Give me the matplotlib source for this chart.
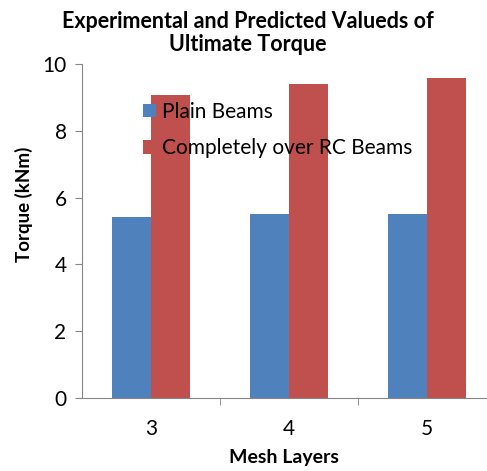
import numpy as np
import matplotlib
matplotlib.use('Agg')
import matplotlib.pyplot as plt

plt.rcParams['font.family'] = ['Lato', 'DejaVu Sans']

layers = ['3', '4', '5']
plain = [5.42, 5.52, 5.52]
complete = [9.08, 9.4, 9.58]

fig = plt.figure(figsize=(4.87, 4.71), dpi=100)
ax = fig.add_axes([0.168, 0.155, 0.85, 0.709])

x = np.arange(len(layers))
w = 0.283
ax.bar(x - w / 2, plain, w, color='#4f81bd', label='Plain Beams', zorder=2)
ax.bar(x + w / 2, complete, w, color='#c0504d', label='Completely over RC Beams', zorder=2)

ax.set_xlim(-0.5, 2.5)
ax.set_ylim(0, 10)
ax.set_yticks([0, 2, 4, 6, 8, 10])
ax.set_xticks(x)
ax.set_xticklabels(layers)
ax.set_xticks([0.5, 1.5], minor=True)
ax.tick_params(axis='x', which='major', length=0, pad=15, labelsize=15)
ax.tick_params(axis='x', which='minor', length=5, color='#868686')
ax.tick_params(axis='y', length=5, color='#868686', labelsize=15, pad=6)

for s in ['top', 'right']:
    ax.spines[s].set_visible(False)
for s in ['left', 'bottom']:
    ax.spines[s].set_color('#868686')

ax.set_title('Experimental and Predicted Valueds of\nUltimate Torque',
             fontsize=15.5, fontweight='bold', x=0.40, y=1.04, pad=0,
             linespacing=1.12)
ax.set_xlabel('Mesh Layers', fontsize=14, fontweight='bold')
ax.xaxis.set_label_coords(0.488, -0.152)
ax.set_ylabel('Torque (kNm)', fontsize=13.5, fontweight='bold')
ax.yaxis.set_label_coords(-0.118, 0.58)

leg = ax.legend(loc='upper left', bbox_to_anchor=(0.128, 0.912), frameon=False,
                borderaxespad=0, fontsize=15, handlelength=0.6, handleheight=0.6,
                handletextpad=0.3, labelspacing=0.79)
leg.set_zorder(5)

fig.savefig('out.png', dpi=100)
